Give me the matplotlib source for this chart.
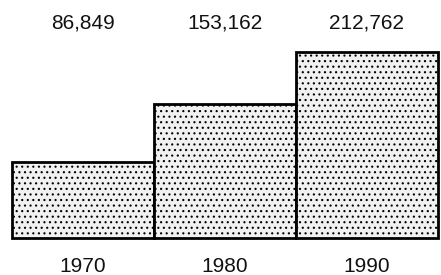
import numpy as np
import matplotlib.pyplot as plt
import matplotlib.transforms as mtransforms

# Datos
anios = ['1970', '1980', '1990']
valores = [86849, 153162, 212762]
etiquetas = ['86,849', '153,162', '212,762']

plt.rcParams['hatch.color'] = '#9a9a9a'
plt.rcParams['hatch.linewidth'] = 0.8

fig = plt.figure(figsize=(4.41, 2.75), dpi=100)
ax = fig.add_axes([12 / 441, 37 / 275, 426 / 441, 186 / 275])

x = np.arange(len(anios))
barras = ax.bar(x, valores, width=1.0, color='#f1f1f1', edgecolor='black',
                linewidth=2, hatch='...', clip_on=False)

ax.set_xlim(-0.5, len(anios) - 0.5)
ax.set_ylim(0, max(valores))
ax.axis('off')

# Textos arriba (valores) y abajo (años)
trans = mtransforms.blended_transform_factory(ax.transData, fig.transFigure)
for i in range(len(anios)):
    ax.text(x[i], 1 - 23 / 275, etiquetas[i], transform=trans, ha='center',
            va='center', fontsize=15, family='Liberation Sans', color='#111111')
    ax.text(x[i], 1 - 266 / 275, anios[i], transform=trans, ha='center',
            va='center', fontsize=15, family='Liberation Sans', color='#111111')

fig.savefig('out.png', dpi=100, facecolor='white')
